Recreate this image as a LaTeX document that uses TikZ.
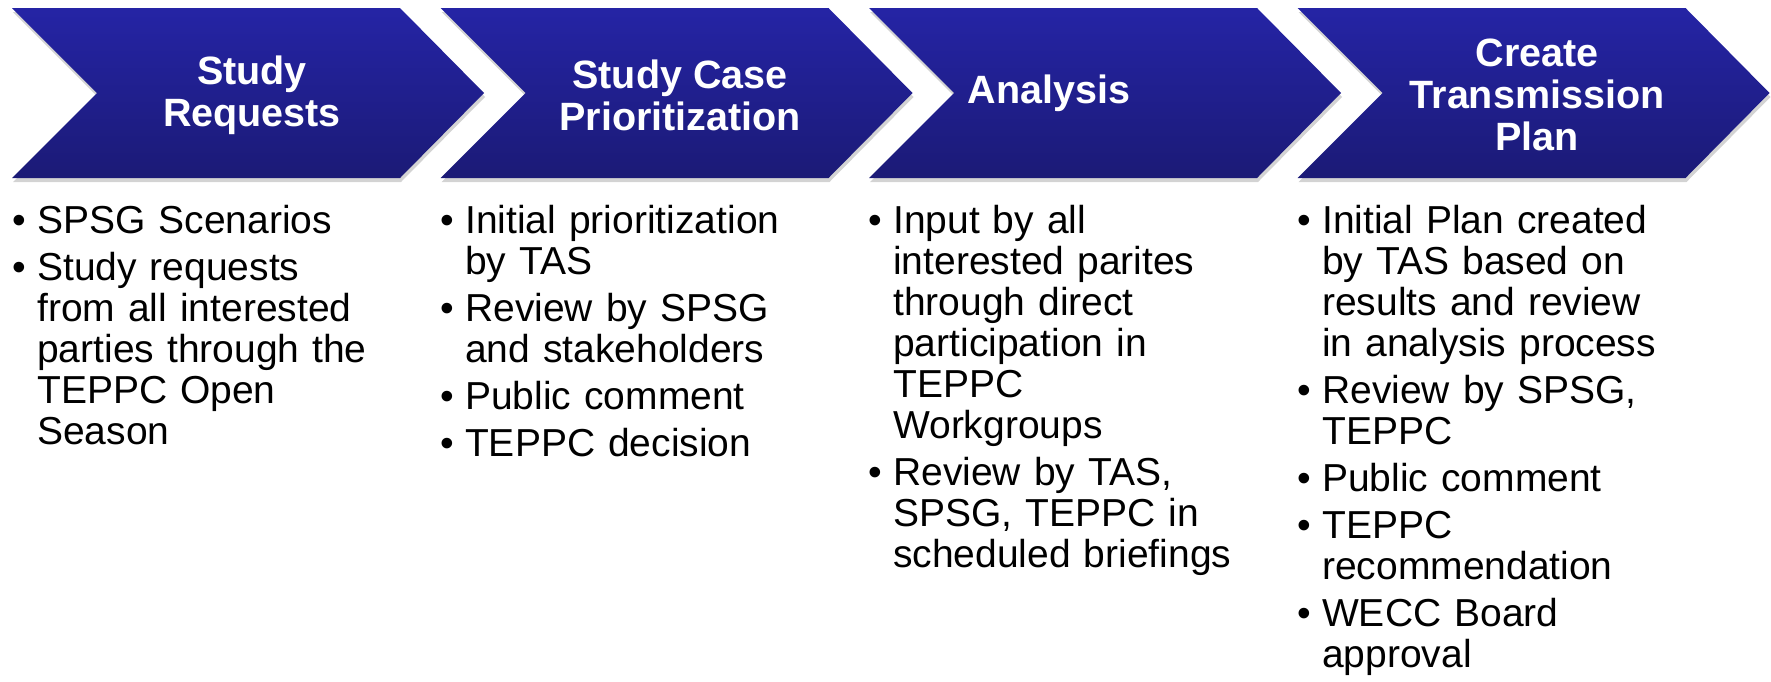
\documentclass[tikz,border=0pt]{standalone}
\usepackage{fontspec}
\setmainfont{Liberation Sans}
\usetikzlibrary{shadows}

\definecolor{chevtop}{RGB}{37,36,165}
\definecolor{chevbot}{RGB}{27,26,118}

% bullet with hanging indent
\newcommand{\bul}{\hangindent=25pt\hangafter=1\noindent\makebox[25pt][l]{\textbullet}}
\newcommand{\nxt}{\par\vspace{6pt}\bul}
\newcommand{\nl}{\hfil\break}

\tikzset{
  chevron/.style={top color=chevtop, bottom color=chevbot,
    drop shadow={shadow xshift=1pt, shadow yshift=-4pt, opacity=0.35}},
  title/.style={text=white, align=center, inner sep=0pt,
    font=\fontsize{39.5}{42}\selectfont\bfseries},
  body/.style={anchor=base west, text width=405pt, inner sep=0pt,
    font=\fontsize{39}{41}\selectfont},
}

\begin{document}
\begin{tikzpicture}[x=1pt, y=-1pt]
    \useasboundingbox (0,0) rectangle (1771,681);
    \foreach \i in {0,...,3} {
      \pgfmathsetmacro{\xo}{12+428.5*\i}
      \path[chevron] (\xo,8) -- ++(388,0) -- ++(84,85) -- ++(-84,85) -- ++(-388,0) -- ++(85,-85) -- cycle;
    }
    \node[title] (t1) at (252,95) {Study\\Requests};
    \node[title] (t2) at (680,95) {Study Case\\Prioritization};
    \node[title] (t3) at (1049,93) {Analysis};
    \node[title] (t4) at (1537,95) {Create\\Transmission\\Plan};
    % bullet lists
    \node[body] (b1) at (12,233) {\bul SPSG Scenarios
      \nxt Study requests\nl from all interested\nl parties through the\nl TEPPC Open\nl Season\par};
    \node[body] (b2) at (440,233) {\bul Initial prioritization\nl by TAS
      \nxt Review by SPSG\nl and stakeholders
      \nxt Public comment
      \nxt TEPPC decision\par};
    \node[body] (b3) at (868,233) {\bul Input by all\nl interested parites\nl through direct\nl participation in\nl TEPPC\nl Workgroups
      \nxt Review by TAS,\nl SPSG, TEPPC in\nl scheduled briefings\par};
    \node[body] (b4) at (1297,233) {\bul Initial Plan created\nl by TAS based on\nl results and review\nl in analysis process
      \nxt Review by SPSG,\nl TEPPC
      \nxt Public comment
      \nxt TEPPC\nl recommendation
      \nxt WECC Board\nl approval\par};
\end{tikzpicture}
\end{document}
